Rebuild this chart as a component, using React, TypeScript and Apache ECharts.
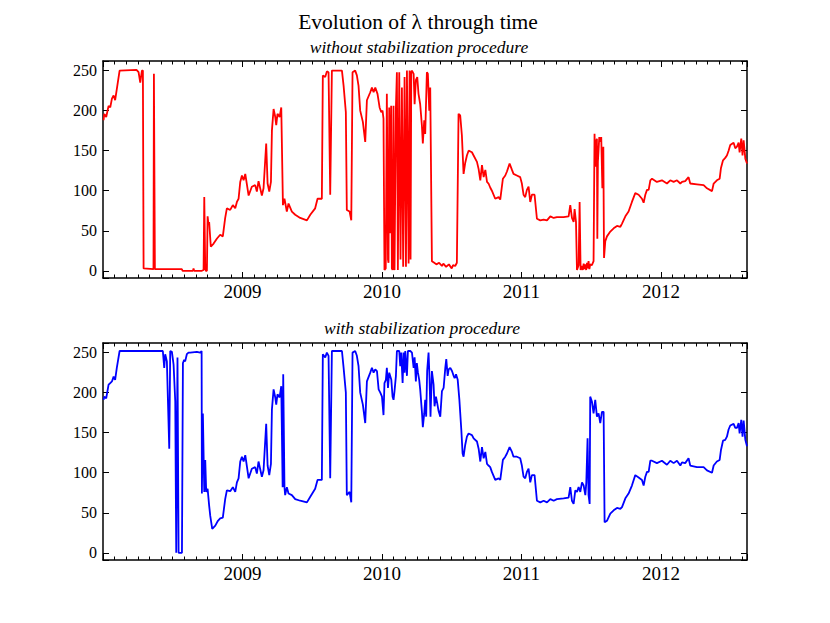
import React, { useEffect, useRef } from "react";
import * as echarts from "echarts";

// ---- labels ----
const TITLE = "Evolution of λ through time";
const SUBTITLE_TOP = "without stabilization procedure";
const SUBTITLE_BOTTOM = "with stabilization procedure";
const YEAR_TICK_LABELS = [2009, 2010, 2011, 2012];
const VALUE_TICK_LABELS = [0, 50, 100, 150, 200, 250];

// ---- axis ranges (decimal years / lambda) ----
const X_MIN = 2008;
const X_MAX = 2012.617;
const Y_MIN = -9;
const Y_MAX = 262;

// ---- series: without stabilization (decimal year, lambda) ----
const rawYears = [
  2008.004, 2008.009, 2008.023, 2008.04, 2008.052, 2008.064, 2008.076, 2008.087, 2008.099, 2008.119,
  2008.24, 2008.255, 2008.267, 2008.279, 2008.286, 2008.291, 2008.362, 2008.365, 2008.369, 2008.372,
  2008.566, 2008.57, 2008.645, 2008.649, 2008.654, 2008.709, 2008.721, 2008.726, 2008.733, 2008.738,
  2008.745, 2008.75, 2008.755, 2008.761, 2008.773, 2008.793, 2008.816, 2008.84, 2008.859, 2008.876,
  2008.888, 2008.912, 2008.931, 2008.948, 2008.96, 2008.972, 2008.984, 2008.996, 2009.008, 2009.02,
  2009.044, 2009.067, 2009.091, 2009.103, 2009.115, 2009.139, 2009.151, 2009.17, 2009.18, 2009.192,
  2009.204, 2009.211, 2009.223, 2009.235, 2009.242, 2009.251, 2009.266, 2009.278, 2009.29, 2009.301,
  2009.318, 2009.33, 2009.354, 2009.378, 2009.414, 2009.462, 2009.486, 2009.521, 2009.538, 2009.569,
  2009.576, 2009.593, 2009.605, 2009.617, 2009.629, 2009.641, 2009.713, 2009.725, 2009.741, 2009.748,
  2009.768, 2009.78, 2009.789, 2009.808, 2009.82, 2009.832, 2009.844, 2009.863, 2009.88, 2009.892,
  2009.916, 2009.928, 2009.94, 2009.952, 2009.968, 2009.983, 2009.995, 2010.004, 2010.011, 2010.018,
  2010.027, 2010.035, 2010.043, 2010.047, 2010.052, 2010.059, 2010.066, 2010.071, 2010.076, 2010.083,
  2010.087, 2010.09, 2010.1, 2010.107, 2010.114, 2010.124, 2010.133, 2010.143, 2010.152, 2010.162,
  2010.172, 2010.179, 2010.191, 2010.198, 2010.205, 2010.21, 2010.215, 2010.227, 2010.234, 2010.243,
  2010.253, 2010.262, 2010.274, 2010.286, 2010.293, 2010.303, 2010.31, 2010.322, 2010.329, 2010.339,
  2010.346, 2010.358, 2010.375, 2010.39, 2010.41, 2010.43, 2010.44, 2010.46, 2010.48, 2010.5,
  2010.51, 2010.525, 2010.537, 2010.549, 2010.561, 2010.573, 2010.585, 2010.597, 2010.609, 2010.621,
  2010.645, 2010.657, 2010.681, 2010.693, 2010.705, 2010.717, 2010.729, 2010.741, 2010.753, 2010.764,
  2010.776, 2010.788, 2010.812, 2010.836, 2010.848, 2010.867, 2010.884, 2010.896, 2010.915, 2010.932,
  2010.943, 2010.967, 2010.991, 2011.003, 2011.015, 2011.027, 2011.039, 2011.051, 2011.063, 2011.075,
  2011.094, 2011.111, 2011.135, 2011.159, 2011.183, 2011.207, 2011.231, 2011.254, 2011.302, 2011.338,
  2011.35, 2011.362, 2011.374, 2011.381, 2011.391, 2011.398, 2011.41, 2011.417, 2011.424, 2011.434,
  2011.44, 2011.446, 2011.452, 2011.458, 2011.464, 2011.47, 2011.475, 2011.481, 2011.487, 2011.493,
  2011.505, 2011.517, 2011.524, 2011.529, 2011.534, 2011.541, 2011.544, 2011.548, 2011.558, 2011.565,
  2011.572, 2011.58, 2011.587, 2011.592, 2011.601, 2011.613, 2011.637, 2011.661, 2011.685, 2011.709,
  2011.721, 2011.745, 2011.768, 2011.792, 2011.816, 2011.84, 2011.864, 2011.876, 2011.888, 2011.9,
  2011.912, 2011.924, 2011.936, 2011.971, 2012.007, 2012.043, 2012.067, 2012.091, 2012.115, 2012.139,
  2012.151, 2012.174, 2012.198, 2012.21, 2012.258, 2012.306, 2012.33, 2012.366, 2012.378, 2012.401,
  2012.421, 2012.43, 2012.445, 2012.461, 2012.473, 2012.485, 2012.497, 2012.521, 2012.533, 2012.545,
  2012.557, 2012.564, 2012.576, 2012.585, 2012.593, 2012.605, 2012.617,
];
const rawLambda = [
  188, 196, 192, 206, 204, 215, 219, 213, 227, 250,
  251, 248, 235, 250, 250, 3, 2, 246, 246, 2,
  2, 0, 0, 3, 0, 0, 1, 92, 2, 0,
  0, 68, 60, 61, 30, 34, 40, 45, 43, 66,
  78, 76, 82, 78, 86, 90, 111, 119, 113, 121,
  94, 105, 107, 99, 112, 94, 103, 159, 109, 99,
  111, 175, 202, 192, 182, 196, 192, 204, 82, 90,
  74, 84, 74, 70, 66, 63, 70, 78, 90, 90,
  244, 242, 249, 248, 95, 250, 250, 231, 198, 76,
  74, 63, 248, 250, 244, 231, 200, 186, 161, 213,
  223, 229, 223, 229, 221, 204, 198, 200, 190, 1,
  3, 221, 14, 10, 204, 47, 206, 3, 1, 206,
  3, 1, 204, 248, 1, 248, 14, 229, 5, 242,
  5, 250, 9, 250, 14, 248, 250, 246, 208, 238,
  242, 221, 208, 182, 159, 188, 171, 248, 246, 200,
  229, 12, 10, 8, 10, 6, 9, 5, 8, 3,
  7, 6, 10, 196, 194, 169, 121, 135, 144, 150,
  148, 144, 136, 127, 113, 132, 117, 126, 111, 109,
  104, 100, 90, 92, 89, 115, 119, 124, 134, 126,
  121, 119, 117, 109, 95, 92, 101, 105, 86, 95,
  95, 65, 63, 64, 63, 68, 66, 67, 67, 68,
  82, 66, 61, 77, 61, 1, 7, 86, 1, 6,
  1, 9, 2, 8, 1, 10, 3, 12, 2, 8,
  7, 12, 171, 130, 161, 165, 40, 136, 167, 161,
  167, 103, 155, 16, 37, 43, 49, 53, 56, 55,
  59, 68, 74, 86, 97, 95, 90, 85, 95, 101,
  101, 113, 115, 111, 113, 109, 113, 111, 113, 109,
  111, 112, 117, 109, 108, 107, 103, 99.5, 109, 113,
  115, 128, 138, 141, 144, 150, 157, 160, 153, 155,
  160, 148, 165, 144, 163, 140, 134,
];

// ---- series: with stabilization (decimal year, lambda) ----
const stabYears = [
  2008.004, 2008.009, 2008.023, 2008.04, 2008.052, 2008.064, 2008.076, 2008.087, 2008.099, 2008.119,
  2008.429, 2008.439, 2008.446, 2008.458, 2008.475, 2008.482, 2008.494, 2008.506, 2008.518, 2008.525,
  2008.53, 2008.534, 2008.542, 2008.566, 2008.573, 2008.582, 2008.589, 2008.601, 2008.613, 2008.625,
  2008.673, 2008.697, 2008.707, 2008.709, 2008.716, 2008.726, 2008.733, 2008.74, 2008.75, 2008.761,
  2008.769, 2008.783, 2008.805, 2008.824, 2008.84, 2008.859, 2008.876, 2008.888, 2008.912, 2008.931,
  2008.948, 2008.96, 2008.972, 2008.984, 2008.996, 2009.008, 2009.02, 2009.044, 2009.067, 2009.091,
  2009.103, 2009.115, 2009.139, 2009.151, 2009.17, 2009.18, 2009.192, 2009.204, 2009.211, 2009.223,
  2009.235, 2009.242, 2009.251, 2009.266, 2009.278, 2009.288, 2009.292, 2009.301, 2009.306, 2009.318,
  2009.33, 2009.354, 2009.378, 2009.414, 2009.462, 2009.486, 2009.521, 2009.538, 2009.569, 2009.576,
  2009.593, 2009.605, 2009.617, 2009.629, 2009.641, 2009.713, 2009.725, 2009.741, 2009.748, 2009.768,
  2009.78, 2009.789, 2009.808, 2009.82, 2009.832, 2009.844, 2009.863, 2009.88, 2009.892, 2009.916,
  2009.928, 2009.94, 2009.952, 2009.964, 2009.976, 2009.988, 2010.0, 2010.011, 2010.018, 2010.028,
  2010.035, 2010.043, 2010.052, 2010.067, 2010.076, 2010.083, 2010.09, 2010.1, 2010.107, 2010.124,
  2010.131, 2010.138, 2010.148, 2010.155, 2010.162, 2010.167, 2010.179, 2010.186, 2010.203, 2010.215,
  2010.227, 2010.234, 2010.243, 2010.25, 2010.258, 2010.267, 2010.274, 2010.286, 2010.293, 2010.303,
  2010.31, 2010.317, 2010.324, 2010.334, 2010.341, 2010.348, 2010.358, 2010.37, 2010.377, 2010.387,
  2010.396, 2010.406, 2010.418, 2010.43, 2010.442, 2010.454, 2010.461, 2010.471, 2010.478, 2010.49,
  2010.502, 2010.514, 2010.521, 2010.531, 2010.543, 2010.555, 2010.569, 2010.578, 2010.585, 2010.597,
  2010.609, 2010.621, 2010.645, 2010.657, 2010.681, 2010.693, 2010.705, 2010.717, 2010.729, 2010.741,
  2010.753, 2010.764, 2010.776, 2010.788, 2010.812, 2010.836, 2010.848, 2010.867, 2010.884, 2010.896,
  2010.915, 2010.932, 2010.943, 2010.967, 2010.991, 2011.003, 2011.015, 2011.027, 2011.039, 2011.051,
  2011.063, 2011.075, 2011.094, 2011.111, 2011.135, 2011.159, 2011.183, 2011.207, 2011.231, 2011.254,
  2011.302, 2011.338, 2011.35, 2011.362, 2011.374, 2011.386, 2011.398, 2011.41, 2011.422, 2011.434,
  2011.446, 2011.458, 2011.465, 2011.474, 2011.481, 2011.489, 2011.493, 2011.505, 2011.517, 2011.529,
  2011.541, 2011.553, 2011.565, 2011.577, 2011.589, 2011.596, 2011.613, 2011.637, 2011.661, 2011.685,
  2011.709, 2011.721, 2011.745, 2011.768, 2011.792, 2011.816, 2011.84, 2011.864, 2011.876, 2011.888,
  2011.9, 2011.912, 2011.924, 2011.936, 2011.971, 2012.007, 2012.043, 2012.067, 2012.091, 2012.115,
  2012.139, 2012.151, 2012.174, 2012.198, 2012.21, 2012.258, 2012.306, 2012.33, 2012.366, 2012.378,
  2012.401, 2012.421, 2012.43, 2012.445, 2012.461, 2012.473, 2012.485, 2012.497, 2012.521, 2012.533,
  2012.545, 2012.557, 2012.564, 2012.576, 2012.585, 2012.593, 2012.605, 2012.617,
];
const stabLambda = [
  191, 195, 193, 210, 212, 214, 220, 216, 231, 252,
  252, 231, 248, 239, 130, 252, 251, 235, 189, 0,
  0, 244, 0, 0, 237, 241, 239, 248, 250, 250,
  251, 250, 252, 74, 174, 76, 116, 76, 80, 59,
  46, 30, 34, 40, 43, 44, 67, 78, 77, 82,
  76, 88, 93, 114, 120, 114, 122, 93, 105, 107,
  99, 114, 95, 103, 161, 109, 97, 111, 179, 204,
  194, 185, 198, 194, 208, 82, 223, 82, 72, 82,
  74, 72, 67, 65, 63, 70, 80, 91, 91, 248,
  244, 250, 246, 93, 252, 252, 231, 200, 72, 76,
  63, 250, 252, 246, 233, 200, 185, 162, 214, 225,
  231, 225, 229, 227, 204, 200, 195, 172, 212, 216,
  231, 206, 225, 216, 195, 191, 202, 221, 252, 252,
  233, 250, 212, 250, 225, 252, 221, 252, 252, 250,
  231, 244, 214, 237, 225, 216, 204, 177, 157, 174,
  191, 170, 227, 250, 218, 170, 227, 210, 183, 195,
  187, 177, 170, 202, 206, 231, 242, 221, 229, 231,
  227, 221, 218, 223, 216, 191, 153, 124, 120, 135,
  145, 149, 147, 143, 139, 130, 114, 132, 118, 126,
  111, 109, 107, 101, 91, 93, 91, 116, 120, 124,
  132, 126, 120, 120, 118, 109, 95, 93, 101, 105,
  88, 97, 97, 65, 63, 65, 63, 67, 65, 67,
  68, 69, 82, 65, 61, 78, 76, 82, 76, 88,
  84, 72, 88, 143, 72, 61, 195, 189, 174, 191,
  170, 174, 162, 176, 176, 38, 40, 49, 53, 56,
  55, 57, 68, 74, 84, 97, 94, 91, 84, 95,
  101, 101, 115, 115, 112, 115, 110, 115, 112, 115,
  109, 113, 112, 118, 109, 107, 107, 103, 100, 109,
  114, 116, 128, 140, 141, 145, 154, 159, 161, 156,
  156, 162, 149, 166, 145, 165, 141, 133,
];

const FONT = "'Liberation Serif', 'DejaVu Serif', serif";

function pair(xs: number[], ys: number[]) {
  const n = Math.min(xs.length, ys.length);
  const out: number[][] = [];
  for (let i = 0; i < n; i++) out.push([xs[i], ys[i]]);
  return out;
}

function xAxesFor(gridIndex: number) {
  const common = {
    type: "value",
    gridIndex,
    min: X_MIN,
    max: X_MAX,
    interval: 1,
    axisLine: { show: true, onZero: false, lineStyle: { color: "#000", width: 1.5 } },
    axisTick: { show: true, inside: true, length: 6, lineStyle: { color: "#000", width: 1 } },
    minorTick: { show: true, splitNumber: 12, length: 3.5, lineStyle: { color: "#000", width: 1 } },
    splitLine: { show: false },
    minorSplitLine: { show: false },
  };
  return [
    {
      ...common,
      position: "bottom",
      axisLabel: {
        show: true,
        margin: 4,
        color: "#000",
        fontFamily: FONT,
        fontSize: 19,
        showMinLabel: true,
        showMaxLabel: true,
        hideOverlap: false,
        formatter: (v: number) => {
          const r = Math.round(v);
          return Math.abs(v - r) < 1e-6 && YEAR_TICK_LABELS.indexOf(r) >= 0 ? String(r) : "";
        },
      },
    },
    { ...common, position: "top", axisLabel: { show: false } },
  ];
}

function yAxesFor(gridIndex: number) {
  const common = {
    type: "value",
    gridIndex,
    min: Y_MIN,
    max: Y_MAX,
    splitNumber: 5,
    axisLine: { show: true, onZero: false, lineStyle: { color: "#000", width: 1.5 } },
    axisTick: { show: true, inside: true, length: 6, lineStyle: { color: "#000", width: 1 } },
    splitLine: { show: false },
  };
  return [
    {
      ...common,
      position: "left",
      axisLabel: {
        show: true,
        margin: 6,
        color: "#000",
        fontFamily: FONT,
        fontSize: 16,
        hideOverlap: false,
        formatter: (v: number) => {
          const r = Math.round(v);
          return Math.abs(v - r) < 1e-6 && VALUE_TICK_LABELS.indexOf(r) >= 0 ? String(r) : "";
        },
      },
    },
    { ...common, position: "right", axisLabel: { show: false } },
  ];
}

export default function App() {
  const ref = useRef<HTMLDivElement>(null);

  useEffect(() => {
    if (!ref.current) return;
    const chart = echarts.init(ref.current, undefined, { renderer: "svg" });
    const textStyle = (text: string, size: number, italic: boolean) => ({
      text,
      fill: "#000",
      fontFamily: FONT,
      fontStyle: italic ? "italic" : "normal",
      fontSize: size,
      align: "center",
      verticalAlign: "middle",
      textAlign: "center",
      textVerticalAlign: "middle",
    });
    const option = {
      animation: false,
      backgroundColor: "#fff",
      grid: [
        { left: 103, top: 61, width: 644, height: 217, containLabel: false, outerBoundsMode: "none" },
        { left: 103, top: 343, width: 644, height: 217, containLabel: false, outerBoundsMode: "none" },
      ],
      xAxis: [...xAxesFor(0), ...xAxesFor(1)],
      yAxis: [...yAxesFor(0), ...yAxesFor(1)],
      series: [
        {
          type: "line",
          name: SUBTITLE_TOP,
          xAxisIndex: 0,
          yAxisIndex: 0,
          data: pair(rawYears, rawLambda),
          showSymbol: false,
          symbol: "none",
          lineStyle: { color: "#ff0000", width: 1.8 },
          itemStyle: { color: "#ff0000" },
        },
        {
          type: "line",
          name: SUBTITLE_BOTTOM,
          xAxisIndex: 2,
          yAxisIndex: 2,
          data: pair(stabYears, stabLambda),
          showSymbol: false,
          symbol: "none",
          lineStyle: { color: "#0000ff", width: 1.8 },
          itemStyle: { color: "#0000ff" },
        },
      ],
      graphic: [
        { type: "text", x: 418, y: 22, style: textStyle(TITLE, 21.5, false) },
        { type: "text", x: 419, y: 47, style: textStyle(SUBTITLE_TOP, 17.5, true) },
        { type: "text", x: 422, y: 328, style: textStyle(SUBTITLE_BOTTOM, 17.5, true) },
      ],
    };
    chart.setOption(option as any);
    return () => chart.dispose();
  }, []);

  return (
    <div
      ref={ref}
      style={{ position: "fixed", left: 0, top: 0, width: 830, height: 623, background: "#fff" }}
    />
  );
}
